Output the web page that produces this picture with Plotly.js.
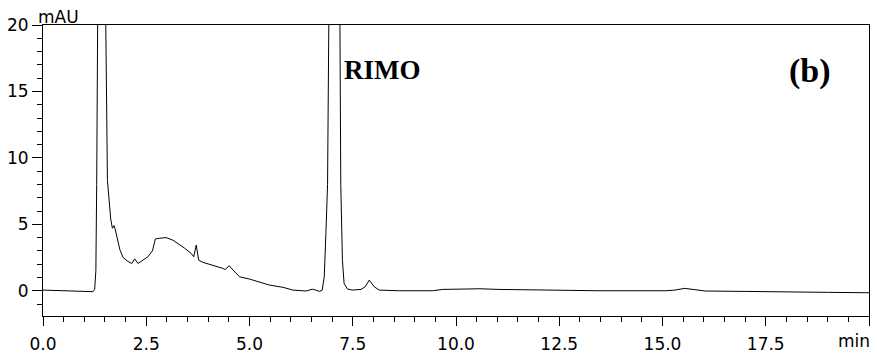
<!DOCTYPE html>
<html>
<head>
<meta charset="utf-8">
<script src="https://cdn.plot.ly/plotly-3.0.1.min.js"></script>
<style>html,body{margin:0;padding:0;background:#fff;}#chart{width:877px;height:356px;}</style>
</head>
<body>
<div id="chart"></div>
<script>
// Retention time (min)
var timeMin = [0, 0.3, 0.6, 0.9, 1.1, 1.21, 1.25, 1.28, 1.30, 1.32, 1.36, 1.42, 1.48, 1.52, 1.56, 1.60, 1.64, 1.68, 1.72, 1.75, 1.79, 1.86, 1.94, 2.06, 2.15, 2.22, 2.30, 2.42, 2.54, 2.65, 2.72, 2.82, 2.98, 3.15, 3.27, 3.43, 3.59, 3.65, 3.71, 3.77, 3.87, 4.11, 4.35, 4.41, 4.51, 4.60, 4.76, 5.0, 5.24, 5.48, 5.81, 6.05, 6.37, 6.45, 6.52, 6.60, 6.70, 6.76, 6.81, 6.85, 6.89, 6.92, 6.98, 7.05, 7.12, 7.19, 7.21, 7.25, 7.29, 7.37, 7.49, 7.70, 7.80, 7.90, 8.02, 8.14, 8.63, 9.43, 9.67, 10.24, 10.56, 11.04, 12.0, 13.46, 15.08, 15.3, 15.54, 15.8, 16.04, 17.0, 17.9, 19.0, 20.0];
// Absorbance (mAU)
var absorbance = [0.05, 0.03, 0.0, -0.03, -0.05, -0.07, 0.1, 1.5, 8, 18, 45, 70, 45, 20, 8.3, 6.5, 5.4, 4.7, 4.9, 4.6, 4.1, 3.1, 2.5, 2.2, 2.05, 2.4, 2.05, 2.3, 2.56, 3.0, 3.9, 3.95, 4.0, 3.8, 3.55, 3.2, 2.8, 2.56, 3.44, 2.3, 2.14, 1.94, 1.69, 1.6, 1.88, 1.56, 1.05, 0.88, 0.68, 0.43, 0.26, 0.05, -0.02, 0.05, 0.12, 0.05, -0.05, 0.05, 1.05, 4.3, 8, 20, 45, 60, 45, 20, 8, 2.3, 0.56, 0.13, 0.05, 0.1, 0.3, 0.8, 0.3, 0.05, 0.0, 0.0, 0.1, 0.13, 0.15, 0.1, 0.05, 0.0, 0.0, 0.05, 0.18, 0.05, -0.02, -0.05, -0.1, -0.12, -0.15];

var xTickVals = [0, 2.5, 5, 7.5, 10, 12.5, 15, 17.5, 20];
var xTickText = ["0.0", "2.5", "5.0", "7.5", "10.0", "12.5", "15.0", "17.5", ""];
var xUnitLabel = "min";
var yTickVals = [0, 5, 10, 15, 20];
var yTickText = ["0", "5", "10", "15", "20"];
var yUnitLabel = "mAU";

var tickFont = {family: "DejaVu Sans", size: 17, color: "#000"};

var trace = {
  x: timeMin, y: absorbance, type: "scatter", mode: "lines",
  line: {color: "#000", width: 1}, hoverinfo: "skip"
};

var layout = {
  width: 877, height: 356,
  margin: {l: 43, r: 8, t: 25, b: 40},
  paper_bgcolor: "#fff", plot_bgcolor: "#fff",
  showlegend: false,
  xaxis: {
    range: [0, 20], tickmode: "array", tickvals: xTickVals, ticktext: xTickText,
    ticks: "outside", ticklen: 9, tickwidth: 1, tickcolor: "#000",
    minor: {tickmode: "linear", tick0: 0, dtick: 0.5, ticks: "outside", ticklen: 5, tickwidth: 1, tickcolor: "#000"},
    showline: true, linecolor: "#000", linewidth: 1, mirror: true,
    showgrid: false, zeroline: false, tickfont: tickFont, ticklabelstandoff: 4
  },
  yaxis: {
    range: [-1.9, 20], tickmode: "array", tickvals: yTickVals, ticktext: yTickText,
    ticks: "outside", ticklen: 10, tickwidth: 1, tickcolor: "#000",
    minor: {tickmode: "linear", tick0: 0, dtick: 1, ticks: "outside", ticklen: 5, tickwidth: 1, tickcolor: "#000"},
    showline: true, linecolor: "#000", linewidth: 1, mirror: true,
    showgrid: false, zeroline: false, tickfont: tickFont
  },
  annotations: [
    {text: yUnitLabel, xref: "paper", yref: "paper", x: -0.009, y: 1.028, xanchor: "left", yanchor: "middle",
     showarrow: false, font: tickFont},
    {text: xUnitLabel, xref: "paper", yref: "paper", x: 1.0, y: -0.085, xanchor: "right", yanchor: "middle",
     showarrow: false, font: tickFont, xshift: 3},
    {text: "<b>RIMO</b>", xref: "paper", yref: "paper", x: 0.411, y: 0.845, xanchor: "center", yanchor: "middle",
     showarrow: false, font: {family: "Liberation Serif", size: 27, color: "#000"}},
    {text: "<b>(b)</b>", xref: "paper", yref: "paper", x: 0.9286, y: 0.842, xanchor: "center", yanchor: "middle",
     showarrow: false, font: {family: "Liberation Serif", size: 34, color: "#000"}}
  ]
};

Plotly.newPlot("chart", [trace], layout, {staticPlot: true, displayModeBar: false});
</script>
</body>
</html>
